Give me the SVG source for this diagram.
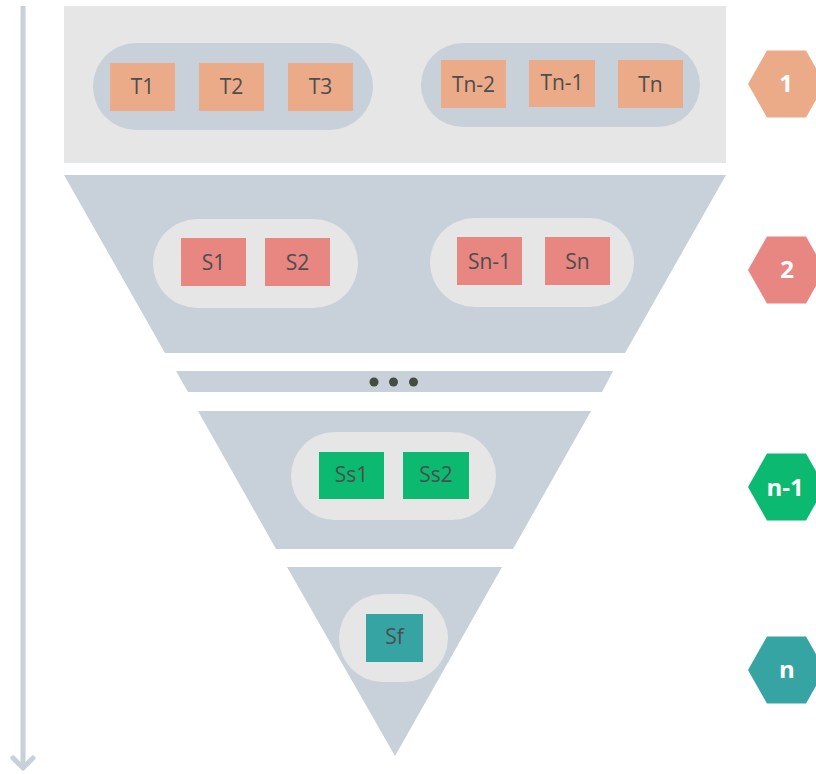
<svg xmlns="http://www.w3.org/2000/svg" width="816" height="774" viewBox="0 0 816 774">
<style>
.panel{fill:#e6e6e6}
.band{fill:#c8d0d9}
.pillB{fill:#c8d0d9}
.pillG{fill:#e6e6e6}
.t{fill:#ebab88}
.s{fill:#e88682}
.ss{fill:#0bba70}
.sf{fill:#37a4a4}
.lbl{font-family:"Open Sans","Noto Sans",sans-serif;font-size:21px;fill:#4d4d4d;text-anchor:middle}
.hx{font-family:"Open Sans","Noto Sans",sans-serif;font-size:24px;font-weight:bold;fill:#ffffff;text-anchor:middle}
</style>
<rect width="816" height="774" fill="#ffffff"/>
<g id="connectors">
<line x1="23" y1="6" x2="23" y2="768" stroke="#c8d0d9" stroke-width="5"/>
<polyline points="13,758 23,768 33,758" fill="none" stroke="#c8d0d9" stroke-width="5" stroke-linecap="round" stroke-linejoin="round"/>
</g>
<g id="level1">
<rect class="panel" x="64" y="6" width="662" height="157"/>
<rect class="pillB" x="93" y="43" width="280" height="87" rx="43.5"/>
<rect class="pillB" x="421" y="43" width="279" height="84" rx="42"/>
</g>
<g id="T1"><rect class="t" x="110" y="63" width="65" height="48"/><text class="lbl" x="142.5" y="94">T1</text></g>
<g id="T2"><rect class="t" x="199" y="63" width="65" height="48"/><text class="lbl" x="231.5" y="94">T2</text></g>
<g id="T3"><rect class="t" x="288" y="63" width="65" height="48"/><text class="lbl" x="320.5" y="94">T3</text></g>
<g id="Tn-2"><rect class="t" x="441" y="60" width="65" height="48"/><text class="lbl" x="473.5" y="92">Tn-2</text></g>
<g id="Tn-1"><rect class="t" x="529" y="60" width="66" height="47"/><text class="lbl" x="562" y="90">Tn-1</text></g>
<g id="Tn"><rect class="t" x="618" y="60" width="65" height="48"/><text class="lbl" x="650.5" y="92">Tn</text></g>
<g id="level2">
<polygon class="band" points="64,175 726,175 625,353 165,353"/>
<rect class="pillG" x="153" y="219" width="205" height="89" rx="44.5"/>
<rect class="pillG" x="430" y="218" width="204" height="89" rx="44.5"/>
</g>
<g id="S1"><rect class="s" x="181" y="238" width="65" height="48"/><text class="lbl" x="213.5" y="270">S1</text></g>
<g id="S2"><rect class="s" x="265" y="238" width="65" height="48"/><text class="lbl" x="297.5" y="270">S2</text></g>
<g id="Sn-1"><rect class="s" x="457" y="237" width="65" height="48"/><text class="lbl" x="489.5" y="269">Sn-1</text></g>
<g id="Sn"><rect class="s" x="545" y="237" width="65" height="48"/><text class="lbl" x="577.5" y="269">Sn</text></g>
<g id="ellipsis">
<polygon class="band" points="176,371 613,371 602,392 188,392"/>
<circle cx="374" cy="382" r="4.5" fill="#454d40"/>
<circle cx="393.5" cy="382" r="4.5" fill="#454d40"/>
<circle cx="413.5" cy="382" r="4.5" fill="#454d40"/>
</g>
<g id="levelN-1">
<polygon class="band" points="198,411 591,411 513,549 276,549"/>
<rect class="pillG" x="291" y="432" width="205" height="88" rx="44"/>
</g>
<g id="Ss1"><rect class="ss" x="319" y="452" width="65" height="47"/><text class="lbl" x="351.5" y="482">Ss1</text></g>
<g id="Ss2"><rect class="ss" x="403" y="452" width="66" height="47"/><text class="lbl" x="436" y="482">Ss2</text></g>
<g id="levelN">
<polygon class="band" points="287,567 502,567 395,756"/>
<rect class="pillG" x="339" y="594" width="109" height="88" rx="44"/>
</g>
<g id="Sf"><rect class="sf" x="366" y="614" width="57" height="48"/><text class="lbl" x="394.5" y="644">Sf</text></g>
<g id="hex1"><polygon class="t" points="748,84 767,50.5 806,50.5 825,84 806,117.5 767,117.5"/><text class="hx" x="786" y="92">1</text></g>
<g id="hex2"><polygon class="s" points="748,270 767,236.5 806,236.5 825,270 806,303.5 767,303.5"/><text class="hx" x="787" y="278">2</text></g>
<g id="hexN-1"><polygon class="ss" points="748,487 767,453.5 806,453.5 825,487 806,520.5 767,520.5"/><text class="hx" x="785" y="496">n-1</text></g>
<g id="hexN"><polygon class="sf" points="748,670 767,636.5 806,636.5 825,670 806,703.5 767,703.5"/><text class="hx" x="787" y="678">n</text></g>
</svg>
